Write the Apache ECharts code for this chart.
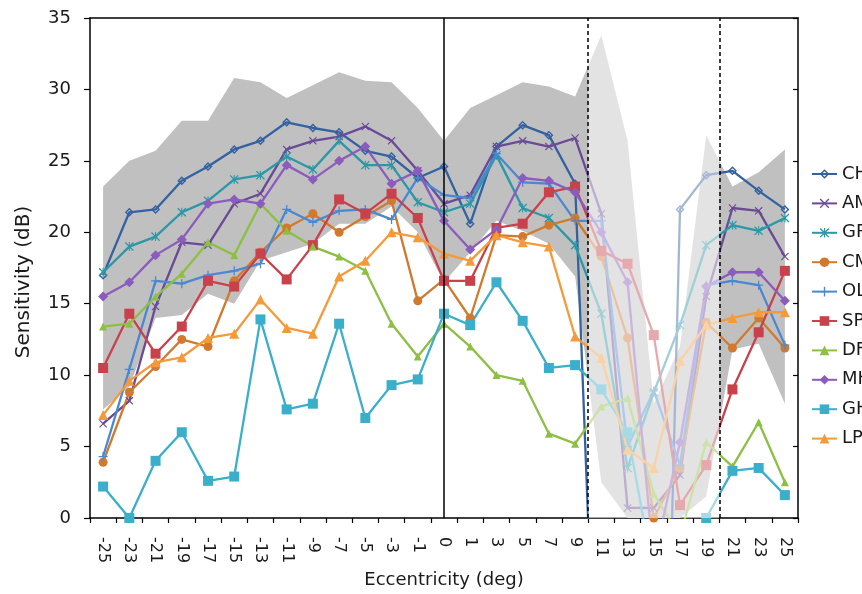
<!DOCTYPE html>
<html><head><meta charset="utf-8">
<script src="https://cdn.jsdelivr.net/npm/echarts@6/dist/echarts.min.js"></script>
<style>html,body{margin:0;padding:0;background:#fff}#c{width:862px;height:594px}</style>
</head><body><div id="c"></div>
<script>
// ---- data ----
const categories = ['-25','-23','-21','-19','-17','-15','-13','-11','-9','-7','-5','-3','-1','0','1','3','5','7','9','11','13','15','17','19','21','23','25'];
const seriesNames = ['CH','AM','GR','CM','OL','SP','DF','MH','GH','LP'];
const CH = [17.0,21.4,21.6,23.6,24.6,25.8,26.4,27.7,27.3,27.0,25.7,25.3,23.8,24.6,20.6,26.0,27.5,26.8,23.4,-24,-40,-50,21.6,24.0,24.3,22.9,21.6];
const AM = [6.6,8.2,14.8,19.3,19.1,22.0,22.7,25.8,26.4,26.7,27.4,26.4,24.3,22.0,22.6,26.0,26.4,26.0,26.6,21.3,0.7,0.7,3.0,15.5,21.7,21.5,18.3];
const GR = [17.2,19.0,19.7,21.4,22.2,23.7,24.0,25.3,24.4,26.4,24.7,24.7,22.1,21.4,22.0,25.4,21.7,21.0,19.1,14.3,3.5,8.8,13.5,19.1,20.5,20.1,21.0];
const CM = [3.9,8.8,10.6,12.5,12.0,16.6,18.6,20.3,21.3,20.0,21.1,22.2,15.2,16.7,14.0,19.8,19.7,20.5,21.0,18.3,12.6,0.0,3.5,13.7,11.9,14.0,11.9];
const OL = [4.3,10.4,16.6,16.4,17.0,17.3,17.8,21.6,20.7,21.5,21.6,20.9,23.8,22.6,22.4,25.5,23.5,23.4,20.8,20.8,5.0,8.9,3.7,16.3,16.6,16.3,12.1];
const SP = [10.5,14.3,11.5,13.4,16.6,16.2,18.5,16.7,19.1,22.3,21.3,22.7,21.0,16.6,16.6,20.3,20.6,22.8,23.2,18.7,17.8,12.8,0.9,3.7,9.0,13.0,17.3];
const DF = [13.4,13.6,15.5,17.1,19.3,18.4,22.0,20.1,19.0,18.3,17.3,13.6,11.3,13.6,12.0,10.0,9.6,5.9,5.2,7.8,8.4,1.7,-1.3,5.3,3.6,6.7,2.5];
const MH = [15.5,16.5,18.4,19.5,22.0,22.3,22.0,24.7,23.7,25.0,26.0,23.4,24.3,20.8,18.8,20.2,23.8,23.6,22.8,20.0,16.5,-3,5.3,16.2,17.2,17.2,15.2];
const GH = [2.2,0.0,4.0,6.0,2.6,2.9,13.9,7.6,8.0,13.6,7.0,9.3,9.7,14.3,13.5,16.5,13.8,10.5,10.7,9.0,6.0,-4,-3,0.0,3.3,3.5,1.6];
const LP = [7.2,9.6,10.9,11.25,12.6,12.9,15.3,13.3,12.9,16.9,18.0,20.0,19.65,18.5,18.0,19.8,19.3,19.0,12.7,11.2,4.8,3.5,11.0,13.5,14.0,14.4,14.4];
const bandLower = [7.6,9.2,14.0,14.2,15.7,15.0,18.0,18.6,19.2,20.6,20.6,21.8,20.0,16.5,18.6,20.8,20.1,19.2,16.9,2.5,0,0,0,1.5,11.8,12.2,8.0];
const bandUpper = [23.2,25.0,25.7,27.8,27.8,30.8,30.5,29.4,30.3,31.2,30.6,30.5,28.7,26.4,28.7,29.6,30.5,30.2,29.5,33.8,26.4,8.0,12.0,26.8,23.2,24.2,25.8];
const yTicks = [0,5,10,15,20,25,30,35];
const zeroCat = 13.5, blindStart = 19, blindEnd = 24; // positions on the helper value axis (category index units)

// ---- styles ----
const FONT = "'DejaVu Sans', Verdana, sans-serif";
const P_DIAMOND_RING = 'path://M5,0 L10,5 L5,10 L0,5 Z M5,2.2 L2.2,5 L5,7.8 L7.8,5 Z';
const P_X = 'path://M0,1 L1,0 L5,4 L9,0 L10,1 L6,5 L10,9 L9,10 L5,6 L1,10 L0,9 L4,5 Z';
const P_AST = 'path://M0,1 L1,0 L5,4 L9,0 L10,1 L6,5 L10,9 L9,10 L5,6 L1,10 L0,9 L4,5 Z M4.4,0 L5.6,0 L5.6,10 L4.4,10 Z';
const P_PLUS = 'path://M4.3,0 L5.7,0 L5.7,4.3 L10,4.3 L10,5.7 L5.7,5.7 L5.7,10 L4.3,10 L4.3,5.7 L0,5.7 L0,4.3 L4.3,4.3 Z';
const style = {
  CH:{c:'#3461a1', s:P_DIAMOND_RING, z:9},
  AM:{c:'#6a4a96', s:P_X, z:8},
  GR:{c:'#2a98a6', s:P_AST, z:9},
  CM:{c:'#d1792f', s:'circle', z:9},
  OL:{c:'#4a88d2', s:P_PLUS, z:9},
  SP:{c:'#c8414b', s:'rect', z:10},
  DF:{c:'#8dbf43', s:'triangle', z:8},
  MH:{c:'#8b5cbd', s:'diamond', z:10},
  GH:{c:'#3aaecb', s:'rect', z:10},
  LP:{c:'#f59a3a', s:'triangle', z:10}
};
const dataMap = {CH,AM,GR,CM,OL,SP,DF,MH,GH,LP};

const series = [
  {type:'line', name:'_low', data:bandLower, stack:'band', symbol:'none', silent:true,
   lineStyle:{opacity:0}, z:1},
  {type:'line', name:'_band', data:bandUpper.map((u,i)=>u-bandLower[i]), stack:'band', symbol:'none', silent:true,
   lineStyle:{opacity:0}, areaStyle:{color:'#c0c0c0', opacity:1}, z:1}
];
seriesNames.forEach(n=>{
  series.push({type:'line', name:n, data:dataMap[n], symbol:style[n].s, symbolSize:style[n].z,
    showAllSymbol:true, lineStyle:{color:style[n].c, width:2.3}, itemStyle:{color:style[n].c},
    z:2, animation:false});
});
series.push({type:'line', name:'_overlay', xAxisIndex:1, data:[], z:10, silent:true,
  markArea:{silent:true, z:10, itemStyle:{color:'rgba(255,255,255,0.55)'},
    data:[[{xAxis:blindStart, yAxis:0},{xAxis:blindEnd, yAxis:34.93}]]}});
series.push({type:'line', name:'_lines', xAxisIndex:1, data:[], z:11, silent:true,
  markLine:{silent:true, z:11, symbol:['none','none'], label:{show:false}, animation:false,
    data:[
      {xAxis:zeroCat, lineStyle:{type:'solid', color:'#000', width:1.5}},
      {xAxis:blindStart, lineStyle:{type:[4,3], color:'#000', width:1.5}},
      {xAxis:blindEnd, lineStyle:{type:[4,3], color:'#000', width:1.5}}
    ]}});

const chart = echarts.init(document.getElementById('c'));
chart.setOption({
  animation:false,
  backgroundColor:'#fff',
  textStyle:{fontFamily:FONT},
  grid:{left:90, right:64, top:18, bottom:71, containLabel:false},
  legend:{data:seriesNames, orient:'vertical', left:806, top:160, itemWidth:25, itemHeight:12, itemGap:11.4,
    textStyle:{fontSize:18, color:'#1a1a1a', fontFamily:FONT}},
  xAxis:[
    {type:'category', data:categories, boundaryGap:true,
     axisLine:{lineStyle:{color:'#000', width:1.5}},
     axisTick:{show:true, length:5, lineStyle:{color:'#000', width:1.2}},
     axisLabel:{interval:0, rotate:-90, fontSize:16, color:'#1a1a1a', margin:19, fontFamily:FONT},
     splitLine:{show:false},
     name:'Eccentricity (deg)', nameLocation:'middle', nameGap:50,
     nameTextStyle:{fontSize:18, color:'#1a1a1a', fontFamily:FONT}},
    {type:'value', min:0, max:27, position:'top', axisLine:{show:true, onZero:false, lineStyle:{color:'#000', width:1.5}},
     axisTick:{show:false}, axisLabel:{show:false}, splitLine:{show:false}}
  ],
  yAxis:[
    {type:'value', min:0, max:35, interval:5,
     axisLine:{show:true, lineStyle:{color:'#000', width:1.5}},
     axisTick:{show:true, length:6, lineStyle:{color:'#000', width:1.2}},
     axisLabel:{fontSize:18, color:'#1a1a1a', margin:19, fontFamily:FONT,
       formatter:v=>yTicks.includes(v)?String(v):''},
     splitLine:{show:false},
     name:'Sensitivity (dB)', nameLocation:'middle', nameGap:56,
     nameTextStyle:{fontSize:20, color:'#1a1a1a', fontFamily:FONT, padding:[0,28,0,0]}},
    {type:'value', min:0, max:35, interval:5, position:'right',
     axisLine:{show:true, lineStyle:{color:'#000', width:1.5}},
     axisTick:{show:true, inside:true, length:5, lineStyle:{color:'#000', width:1.2}},
     axisLabel:{show:false}, splitLine:{show:false}}
  ],
  series:series
});
</script></body></html>
